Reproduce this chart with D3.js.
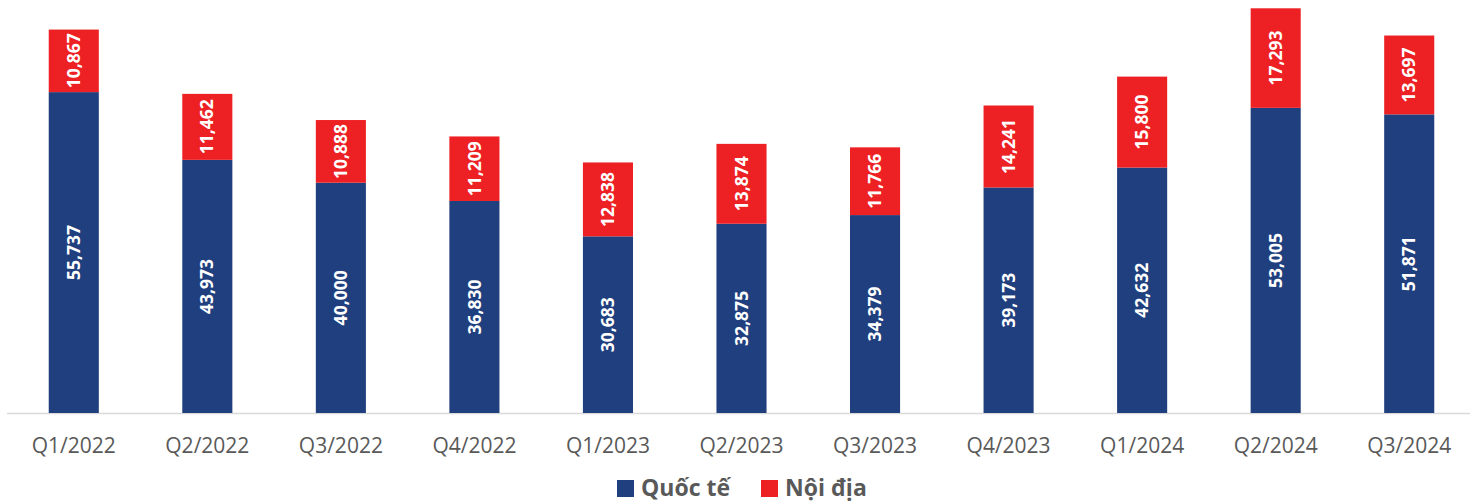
<!DOCTYPE html>
<html>
<head>
<meta charset="utf-8">
<script src="https://cdn.jsdelivr.net/npm/d3@7"></script>
<style>
  body { margin: 0; background: #fff; }
  text { font-family: "Open Sans", "Noto Sans", sans-serif; }
</style>
</head>
<body>
<script>
const quarters = ["Q1/2022", "Q2/2022", "Q3/2022", "Q4/2022", "Q1/2023", "Q2/2023",
  "Q3/2023", "Q4/2023", "Q1/2024", "Q2/2024", "Q3/2024"];
const quocTe = [55737, 43973, 40000, 36830, 30683, 32875, 34379, 39173, 42632, 53005, 51871];
const noiDia = [10867, 11462, 10888, 11209, 12838, 13874, 11766, 14241, 15800, 17293, 13697];
const seriesNames = ["Quốc tế", "Nội địa"];

const w = 1473;
const h = 502;
const blue = "#203f7e";
const red = "#ed2024";

const svg = d3.select("body").append("svg").attr("width", w).attr("height", h);

const xScale = d3.scaleBand()
  .domain(quarters)
  .range([7, 1476])
  .paddingInner(0.625)
  .paddingOuter(0.3125);

const yScale = d3.scaleLinear().domain([0, 72000]).range([413, -1.5]);

const rows = quarters.map((q, i) => ({ q, a: quocTe[i], b: noiDia[i] }));

// baseline
svg.append("line")
  .attr("x1", 7).attr("x2", 1470)
  .attr("y1", yScale(0) + 0.5).attr("y2", yScale(0) + 0.5)
  .attr("stroke", "#d9d9d9").attr("stroke-width", 1.5);

// x axis labels
const xAxis = d3.axisBottom(xScale).tickSize(0).tickPadding(25);
const gx = svg.append("g").attr("transform", `translate(0, ${yScale(0)})`).call(xAxis);
gx.select(".domain").remove();
gx.selectAll("text")
  .attr("fill", "#595959")
  .style("font-family", "'Open Sans', sans-serif")
  .style("font-size", "21px");

// bars
const bars = svg.append("g");
bars.selectAll("rect.qt")
  .data(rows).enter().append("rect")
  .attr("class", "qt")
  .attr("x", (d) => xScale(d.q))
  .attr("width", xScale.bandwidth())
  .attr("y", (d) => yScale(d.a))
  .attr("height", (d) => yScale(0) - yScale(d.a))
  .attr("fill", blue);
bars.selectAll("rect.nd")
  .data(rows).enter().append("rect")
  .attr("class", "nd")
  .attr("x", (d) => xScale(d.q))
  .attr("width", xScale.bandwidth())
  .attr("y", (d) => yScale(d.a + d.b))
  .attr("height", (d) => yScale(d.a) - yScale(d.a + d.b))
  .attr("fill", red);

// value labels
const fmt = d3.format(",");
const addLabels = (cls, mid, val) => {
  svg.selectAll("text." + cls)
    .data(rows).enter().append("text")
    .attr("class", cls)
    .attr("transform", (d) =>
      `translate(${xScale(d.q) + xScale.bandwidth() / 2}, ${mid(d)}) rotate(-90)`)
    .attr("text-anchor", "middle")
    .attr("dy", "0.35em")
    .attr("fill", "#fff")
    .attr("font-weight", "bold")
    .style("font-size", "17.5px")
    .text((d) => fmt(val(d)));
};
addLabels("lqt", (d) => (yScale(0) + yScale(d.a)) / 2, (d) => d.a);
addLabels("lnd", (d) => (yScale(d.a) + yScale(d.a + d.b)) / 2, (d) => d.b);

// legend
const legend = svg.append("g").attr("transform", "translate(617, 480)");
const legendItems = [
  { name: seriesNames[0], color: blue, x: 0 },
  { name: seriesNames[1], color: red, x: 144 },
];
legendItems.forEach((it) => {
  legend.append("rect")
    .attr("x", it.x).attr("y", 0)
    .attr("width", 17).attr("height", 17)
    .attr("fill", it.color);
  legend.append("text")
    .attr("x", it.x + 24).attr("y", 15.5)
    .attr("fill", "#595959")
    .attr("font-weight", "bold")
    .style("font-size", "23px")
    .text(it.name);
});
</script>
</body>
</html>
